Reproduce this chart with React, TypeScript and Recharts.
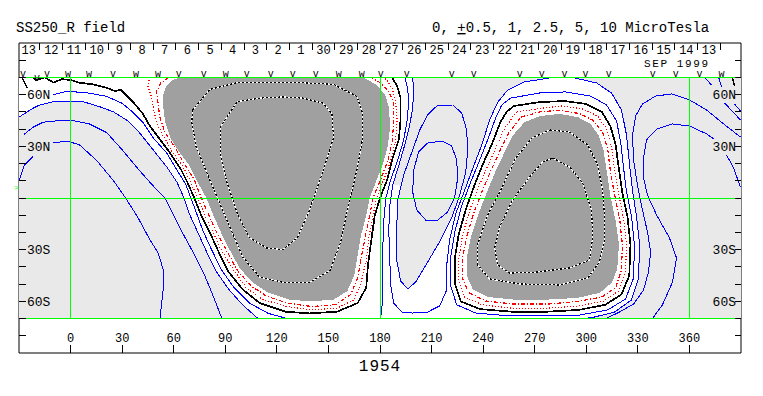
import { ScatterChart, Scatter, XAxis, YAxis } from "recharts";

type P = [number, number];

const W = 763;
const H = 396;
const MONO = "'Liberation Mono', 'DejaVu Sans Mono', monospace";
const BLUE = "#0000ff";
const RED = "#ff0000";
const GREEN = "#00ff00";
const LIGHT = "#e9e9e9";
const DARK = "#a0a0a0";

// axis ticks
const lonTicks = [0, 30, 60, 90, 120, 150, 180, 210, 240, 270, 300, 330, 360];
const latTicks = [-80, -70, -60, -50, -40, -30, -20, -10, 0, 10, 20, 30, 40, 50, 60, 70, 80];
const latLabelVals = [60, 30, -30, -60];
const latLabelText = ["60N", "30N", "30S", "60S"];

// carrington day boundaries along the top strip
const daySeps = [-17.8, -4.6, 8.6, 21.8, 35.0, 48.2, 61.3, 74.5, 87.7, 100.9, 114.1, 127.3, 140.5, 153.7, 166.9, 180.1, 193.3, 206.5, 219.6, 232.8, 246.0, 259.2, 272.4, 285.6, 298.8, 312.0, 325.2, 338.4, 351.6, 364.8, 377.9];
const dayLabels = ["13", "12", "11", "10", "9", "8", "7", "6", "5", "4", "3", "2", "1", "30", "29", "28", "27", "26", "25", "24", "23", "22", "21", "20", "19", "18", "17", "16", "15", "14", "13"];

// observation marks on top of the map
const markLon = [-27.7, -19.5, -13.7, -1.5, 10.7, 24.7, 38, 50.8, 63, 77.5, 90.3, 102.5, 116.5, 129.3, 142.6, 156, 169.4, 180.4, 195.6, 221.7, 234.5, 261.3, 274.1, 287.4, 299.6, 313, 338.6, 352, 365.9, 378.7];
const markLat = [70, 68, 70, 70, 70, 70, 70, 70, 70, 70, 70, 70, 70, 70, 70, 70, 70, 70, 70, 70, 70, 70, 70, 70, 70, 70, 70, 70, 70, 70];
const markKind = ["v", "v", "v", "w", "w", "v", "w", "w", "v", "v", "w", "v", "v", "v", "v", "w", "w", "v", "v", "v", "v", "v", "v", "v", "v", "v", "v", "v", "v", "w"];

// map extent + grid
const mapBox: P[] = [[-30, 70], [390, 70], [390, -70], [-30, -70]];
const gridLat = [70, 0, -70];
const gridLon = [0, 180, 360];

// ---- contours (lon, lat) ----
// left negative lobe
const a4Stub: P[] = [[-30, 10], [-27, 19], [-22, 24]];
const a4: P[] = [[-10, 32], [-2, 33], [5, 31], [15, 22], [25, 10], [32, 0], [39, -11], [46, -24], [51, -32], [54, -42], [54, -52], [53, -61], [52, -70]];
const a3: P[] = [[-27, 37], [-22, 41], [-16, 44], [-6, 45], [1, 45], [11, 43], [21, 38], [30, 28], [40, 16], [49, 6], [55, 0], [59, -8], [65, -20], [71, -31], [78, -45], [83, -57], [88, -70]];
const a2: P[] = [[-30, 47], [-22, 52], [-18, 54], [-10, 56], [-2, 56], [7, 56], [17, 53], [25, 50], [33, 45], [40, 38], [48, 28], [56, 18], [62, 9], [66, 0], [69, -9], [74, -20], [79, -31], [85, -43], [92, -53], [100, -62], [109, -70]];
const a1: P[] = [[-10, 60], [-2, 62], [10, 61], [21, 59], [30, 55], [36, 50], [42, 44], [48, 35], [56, 26], [62, 16], [67, 8], [70, 0], [73, -8], [77, -19], [82, -30], [88, -42], [95, -52], [104, -61], [115, -67], [126, -70]];

// left positive blob
const nlA: P[] = [[-22, 70], [-20, 68.5], [-15, 70], [-10, 67], [-5, 69], [0, 68.5], [5, 67], [13, 66], [21, 64], [26, 62], [29, 63], [33, 59], [37, 55], [42, 49], [46, 42], [52, 34], [58, 26], [64, 17], [68, 9], [72, 0], [76, -10], [81, -20], [86, -31], [92, -43], [100, -53], [110, -61], [125, -66], [139, -67], [155, -66], [167, -61], [172, -52], [173, -39], [175, -24], [177, -10], [180, 0], [184, 10], [187, 22], [191, 34], [192, 46], [192, 58], [190, 65], [187, 70]];
const r2L: P[] = [[46, 70], [45, 65], [47, 59], [48.5, 51], [50, 44], [54, 36], [59, 27], [65, 19], [70, 9], [74, 0], [78, -10], [83, -20], [88, -31], [95, -42], [102, -52], [112, -59], [126, -63], [140, -65], [155, -64], [165, -59], [169, -49], [172, -36], [173.5, -23], [176, -10], [178, 0], [182, 10], [186, 21], [189, 33], [190, 45], [189, 56], [187, 64], [184, 68.5], [182, 70]];
const r1L: P[] = [[57, 70], [52.5, 67], [50, 62], [51, 54], [52, 46.5], [55, 38], [61, 29], [66, 20], [72, 10.5], [76, 0], [80.5, -10], [85, -20], [91, -31], [97, -42], [105, -51], [114, -57], [126, -61], [140, -63], [154, -62], [163, -56], [167, -46.5], [169, -35], [171.5, -22], [174, -10], [176, 0], [180, 10], [184, 20], [187, 32], [188, 44], [188, 55], [185, 62], [180, 67], [175, 70]];
const g1: P[] = [[64, 70], [59, 68.5], [55.5, 65], [54, 60], [54, 52], [55, 44], [58, 35], [63, 27], [69, 19], [74, 9], [79, 0], [83, -10], [87.5, -20], [93, -31], [98.5, -41], [106, -49], [115, -55], [127, -59], [140, -60], [153, -59], [161, -54], [165, -45], [167, -33], [169, -21.5], [172, -10], [174, 0], [177.5, 9], [181.5, 19], [184.5, 30], [186, 42], [185, 53], [183, 60], [177.5, 66], [171, 69.7], [167, 70]];
const w1: P[] = [[71, 51], [81, 63], [97, 67], [114, 67], [133, 67], [153, 66], [166.5, 59], [170, 49], [170, 35], [166.5, 16], [161, -7], [157, -26], [151, -42], [139, -49], [124, -49], [110, -46], [100, -34], [91, -13], [81, 10.5], [73, 30], [70.5, 44]];
const w2: P[] = [[87, 41], [97, 56], [110, 58], [123.5, 58.7], [135, 58], [147, 55], [152, 49], [153, 35], [147, 16], [139, -7], [132, -23], [123.5, -30], [114, -29], [104, -23], [97, -9], [91, 9], [87, 26]];

// middle region
const m1: P[] = [[194.4, 70], [196, 64], [196.7, 57], [196, 46.5], [193.8, 33.7], [190.3, 22], [186.2, 10.5], [183.4, 0], [182.2, -12.8], [181.6, -30], [181.6, -47.6], [181.6, -59], [180.4, -70]];
const mb: P[] = [[199, 70], [199.6, 61.6], [199, 52.3], [197.3, 42.4], [194.4, 30.8], [191, 19.2], [187.4, 7.5], [185.7, -4.1], [185.1, -18.6], [185.7, -36], [186.2, -50.5], [188, -61], [192.6, -66.2], [199, -66.8], [207.7, -66.2], [214.7, -62.7], [218.8, -53.4], [218.8, -39], [220.5, -24.4], [224, -9.3], [229.3, 4.6], [234.5, 18.6], [239.2, 30.8], [243.8, 45.3], [248.5, 55.7], [254.3, 62.7], [264, 67.4], [278.7, 69.7], [293.2, 69.7], [306, 66.8], [314.7, 61], [320.5, 51], [323.4, 36.6], [325.2, 19.2], [327, 3.5], [329.2, -10.5], [331, -27], [330.4, -46.5], [326.3, -59.2], [316.5, -66.2], [304.8, -69.1], [299, -70]];
const e2: P[] = [[213, 53.4], [222.3, 54], [227.5, 49.4], [230.4, 39.5], [231, 27.9], [229.9, 15.1], [226.4, 1.7], [221.7, -11.6], [215.3, -24.4], [207.7, -37.2], [200.8, -48.8], [196.1, -52.8], [192, -48.2], [189.7, -36], [189.7, -18.6], [190.3, -1.2], [193.8, 13.4], [199, 27.9], [203.1, 39.5], [207.7, 48.2]];
const e1: P[] = [[207.7, 31.9], [216, 33.1], [221.7, 30.2], [224.6, 22.1], [225.2, 11.6], [223.5, 0.6], [219.4, -8.1], [213.6, -12.8], [206.6, -12.8], [201.4, -7], [199, 3.5], [199.6, 16.3], [202.5, 26.7]];

// right positive blob
const g2: P[] = [[264, 44], [273, 47.6], [284.5, 48.8], [295, 47], [302.5, 43], [307, 36.6], [310, 28], [312, 15], [314, 1.2], [317, -13], [319, -27], [318, -41], [315, -49], [308, -55], [295, -58], [277.5, -59], [258, -59], [242.6, -57.5], [234, -53], [230.4, -45], [230.4, -35], [232.8, -23], [237, -10], [242, 3], [247, 15], [252, 25.6], [257, 36]];
const r1R: P[] = [[262, 47], [273, 50], [284.5, 51], [296, 49], [304, 45], [309.5, 38], [312.4, 29], [314, 15.7], [316.5, 1.7], [319.4, -12], [321, -27], [320.5, -42], [317, -52], [309, -57.5], [295.5, -60], [277.5, -61.6], [257.7, -61.6], [241.5, -59.8], [231.6, -55], [228, -46.5], [228, -35], [230.4, -22.6], [234.5, -8.7], [239.7, 4.6], [245, 17], [249.6, 27], [255, 38]];
const r2R: P[] = [[259.5, 50], [273, 52], [285.7, 53.4], [298, 51.7], [306.6, 47.6], [311.8, 40], [314.7, 30], [316.5, 16], [318.8, 2.3], [321.7, -11.6], [323.4, -27], [322.8, -43], [318.8, -54], [310, -59.8], [295.5, -62.7], [277.5, -64], [257, -64], [239.7, -62], [229.3, -57.5], [225.8, -47.6], [225.8, -35], [228, -22], [232, -7.5], [237.4, 6.4], [242.6, 18.6], [247.3, 29], [252.5, 40.6]];
const nlB: P[] = [[257.7, 53.4], [273, 55.7], [287.4, 56.3], [300, 54.6], [309, 50], [314, 41.8], [317, 31.4], [319, 16.8], [321, 2.9], [324, -11], [325.7, -27], [325, -45], [320.5, -56], [311, -62], [295.5, -65], [277.5, -66], [256.6, -66], [238, -64.5], [227, -60], [223.5, -49.4], [223.5, -35], [225.8, -21], [230, -6.4], [235, 7.5], [240, 20], [245, 31], [250, 44], [253.7, 50]];
const b1: P[] = [[256, 58], [273, 61], [288, 61.6], [302.5, 59.2], [311.8, 54], [317.6, 44.7], [320, 32.5], [321.7, 17.4], [323.4, 3.5], [326.3, -10.5], [328, -27], [327.5, -46.5], [322.8, -58.7], [312.4, -65], [296, -68], [277.5, -68.5], [256, -68.5], [235.7, -66.8], [224.6, -62], [221, -50.5], [221, -35], [223.5, -19.7], [227.5, -4.6], [232.8, 9.3], [238, 22], [242.6, 33.7], [247.3, 46.5], [250.8, 54]];
const w3: P[] = [[278.7, 39.5], [290.3, 38.3], [300.8, 30.8], [306.6, 19.2], [309.5, 4.6], [310.6, -9.9], [310.6, -24.4], [307.7, -37.2], [300.8, -46.5], [284.5, -50.5], [261.2, -49.9], [243.8, -47], [236.8, -38.9], [236.8, -27.3], [242.1, -11], [250.8, 5.8], [259, 23.2], [268.3, 34.8]];
const w4: P[] = [[280.4, 23.2], [290.3, 18], [297.9, 8.7], [303.1, -7], [303.7, -22.6], [301.9, -36], [290.3, -40.6], [271.2, -43], [255.4, -43.6], [248.5, -38.9], [246.7, -29], [249.6, -16.8], [257.2, -1.2], [267, 12.2], [274.6, 20.9]];

// right negative lobe
const c1: P[] = [[389.7, 35.4], [379.9, 43], [370, 51.1], [360.1, 56.9], [349.6, 60.4], [340.3, 59.2], [332.7, 54.6], [328.7, 47.6], [326.9, 36.6], [327.5, 22.1], [329.8, 7.5], [332.7, -7], [335.6, -19.7], [337.4, -31.4], [336.2, -43], [333.3, -53.4], [327.5, -61.6], [318.2, -66.8], [311.2, -70]];
const c2: P[] = [[338.5, -70], [344.3, -62], [350.2, -48.8], [352.5, -34.8], [348.4, -23.2], [340.9, -9.9], [335.6, 1.7], [333.3, 11.6], [333.3, 23.2], [335, 33.7], [340.9, 40], [350.2, 43], [360.1, 41.8], [370, 37.2], [374.1, 34.3]];
const c2Stub: P[] = [[381.6, 25], [385.7, 17.4], [389.7, 6.4]];
const stubB1: P[] = [[368.8, 70], [372.9, 65.6]];
const stubB2: P[] = [[377, 70], [378.8, 64.5]];
const stubB3: P[] = [[380.4, 55.2], [389.7, 45.3]];
const stubB4: P[] = [[386.2, 54.6], [389.7, 50.5]];
const stubK1: P[] = [[385.1, 69.7], [386.2, 65]];
const stubK2: P[] = [[-28.3, 70], [-25.3, 63.9]];

const pts = (a: P[]) => a.map(([x, y]) => ({ x, y }));
const loop = (a: P[]) => [...a, a[0]];
const Empty = () => <g />;

// white zone: north of the left lobe's second contour, across to the outer contour of the right blob,
// cutting straight across under the egg
const whiteZone: P[] = [[-30, 70], ...mb.slice(0, 7), ...mb.slice(20), ...[...a2].reverse()];

function fillShape(key: string, data: P[], color: string) {
  return (
    <Scatter key={key} data={pts(data)} xAxisId="b" yAxisId="l" shape={Empty} isAnimationActive={false}
      line={{ stroke: "none", fill: color, shapeRendering: "crispEdges" }} lineJointType="linear" legendType="none" />
  );
}

function stroke(key: string, data: P[], color: string, width = 1, dash?: string) {
  return (
    <Scatter key={key} data={pts(data)} xAxisId="b" yAxisId="l" shape={Empty} isAnimationActive={false}
      line={{ stroke: color, strokeWidth: width, strokeDasharray: dash, fill: "none", shapeRendering: "crispEdges" }}
      lineJointType="linear" legendType="none" />
  );
}

function BottomTick(p: any) {
  return (
    <g>
      <line x1={p.x} x2={p.x} y1={p.y} y2={p.y - 8} stroke="#000" shapeRendering="crispEdges" />
      <text x={p.x} y={p.y - 11} textAnchor="middle" fontFamily={MONO} fontSize={12} fill="#000">{p.payload.value}</text>
    </g>
  );
}

function TopTick(p: any) {
  return (
    <g>
      <line x1={p.x} x2={p.x} y1={p.y} y2={p.y + 7} stroke="#000" shapeRendering="crispEdges" />
      <text x={p.x - 11.3} y={p.y + 11} textAnchor="middle" fontFamily={MONO} fontSize={12} fill="#000">{dayLabels[p.index]}</text>
    </g>
  );
}

function LeftTick(p: any) {
  const i = latLabelVals.indexOf(p.payload.value);
  return (
    <g>
      <line x1={p.x} x2={p.x + 7} y1={p.y} y2={p.y} stroke="#000" shapeRendering="crispEdges" />
      {i >= 0 && <text x={p.x + 8} y={p.y + 4.5} fontFamily={MONO} fontSize={13} fill="#000">{latLabelText[i]}</text>}
    </g>
  );
}

function RightTick(p: any) {
  const i = latLabelVals.indexOf(p.payload.value);
  return (
    <g>
      <line x1={p.x} x2={p.x - 6} y1={p.y} y2={p.y} stroke="#000" shapeRendering="crispEdges" />
      {i >= 0 && <text x={p.x - 5} y={p.y + 4.5} textAnchor="end" fontFamily={MONO} fontSize={13} fill="#000">{latLabelText[i]}</text>}
    </g>
  );
}

function Mark(p: any) {
  return (
    <text x={p.cx} y={p.cy} textAnchor="middle" fontFamily={MONO} fontSize={10} fill="#000">{p.payload.k}</text>
  );
}

const marks = markLon.map((x, i) => ({ x, y: markLat[i], k: markKind[i] }));

export default function App() {
  return (
    <div style={{ position: "absolute", left: 0, top: 0, width: W, height: H, background: "#fff" }}>
      <ScatterChart width={W} height={H} margin={{ top: 13, right: 0, bottom: 0, left: 0 }}>
        {fillShape("bg", mapBox, LIGHT)}
        {fillShape("white", whiteZone, "#ffffff")}
        {fillShape("egg", e2, LIGHT)}
        {fillShape("g1", g1, DARK)}
        {fillShape("g2", g2, DARK)}

        {stroke("a4s", a4Stub, BLUE)}
        {stroke("a4", a4, BLUE)}
        {stroke("a3", a3, BLUE)}
        {stroke("a2", a2, BLUE)}
        {stroke("a1", a1, BLUE)}
        {stroke("m1", m1, BLUE)}
        {stroke("mb", mb, BLUE)}
        {stroke("e2", loop(e2), BLUE)}
        {stroke("e1", loop(e1), BLUE)}
        {stroke("b1", loop(b1), BLUE)}
        {stroke("c1", c1, BLUE)}
        {stroke("c2", c2, BLUE)}
        {stroke("c2s", c2Stub, BLUE)}
        {stroke("sb1", stubB1, BLUE)}
        {stroke("sb2", stubB2, BLUE)}
        {stroke("sb3", stubB3, BLUE)}
        {stroke("sb4", stubB4, BLUE)}

        {stroke("r2L", r2L, RED, 1.2, "1 2")}
        {stroke("r1L", r1L, RED, 1.2, "4 2 1 2")}
        {stroke("r2R", loop(r2R), RED, 1.2, "1 2")}
        {stroke("r1R", loop(r1R), RED, 1.2, "4 2 1 2")}

        {stroke("nlA", nlA, "#000", 1.7)}
        {stroke("nlB", loop(nlB), "#000", 1.7)}
        {stroke("sk1", stubK1, "#000", 1.5)}
        {stroke("sk2", stubK2, "#000", 1.5)}

        {stroke("w1b", loop(w1), "#fff", 1.2)}
        {stroke("w1", loop(w1), "#000", 1.2, "2 2")}
        {stroke("w2b", loop(w2), "#fff", 1.2)}
        {stroke("w2", loop(w2), "#000", 1.2, "2 2")}
        {stroke("w3b", loop(w3), "#fff", 1.2)}
        {stroke("w3", loop(w3), "#000", 1.2, "2 2")}
        {stroke("w4b", loop(w4), "#fff", 1.2)}
        {stroke("w4", loop(w4), "#000", 1.2, "2 2")}

        {gridLat.map((la) => stroke(`gla${la}`, [[-30, la], [390, la]], GREEN, 1))}
        {gridLon.map((lo) => stroke(`glo${lo}`, [[lo, -70], [lo, 70]], GREEN, 1))}

        <Scatter data={marks} xAxisId="b" yAxisId="l" shape={Mark} isAnimationActive={false} legendType="none" />

        <XAxis xAxisId="b" dataKey="x" type="number" domain={[-30, 390]} allowDataOverflow ticks={lonTicks} interval={0}
          height={43} tickSize={0} tickMargin={0} tickLine={false} axisLine={{ stroke: "#000" }} tick={BottomTick} />
        <XAxis xAxisId="t" dataKey="x" type="number" orientation="top" domain={[-30, 390]} allowDataOverflow ticks={daySeps} interval={0}
          height={30} tickSize={0} tickMargin={0} tickLine={false} axisLine={{ stroke: "#000" }} tick={TopTick} />
        <YAxis yAxisId="l" dataKey="y" type="number" domain={[-90, 90]} allowDataOverflow ticks={latTicks} interval={0}
          width={19} tickSize={0} tickMargin={0} tickLine={false} axisLine={{ stroke: "#000" }} tick={LeftTick} />
        <YAxis yAxisId="r" dataKey="y" type="number" orientation="right" domain={[-90, 90]} allowDataOverflow ticks={latTicks} interval={0}
          width={22} tickSize={0} tickMargin={0} tickLine={false} axisLine={{ stroke: "#000" }} tick={RightTick} />
      </ScatterChart>
      <svg width={W} height={H} style={{ position: "absolute", left: 0, top: 0, pointerEvents: "none" }}>
        <text x={16} y={32} fontFamily={MONO} fontSize={14} fill="#000">SS250_R field</text>
        <text x={432} y={32} fontFamily={MONO} fontSize={14} fill="#000" xmlSpace="preserve">
          0, <tspan textDecoration="underline">+</tspan>0.5, 1, 2.5, 5, 10 MicroTesla
        </text>
        <text x={644} y={66.5} fontFamily={MONO} fontSize={11} letterSpacing={1.6} fill="#000">SEP 1999</text>
        <text x={380} y={371} textAnchor="middle" fontFamily={MONO} fontSize={16} letterSpacing={1} fill="#000">1954</text>
        <text x={14} y={190} fontFamily={MONO} fontSize={8} fill={GREEN}>&gt;</text>
      </svg>
    </div>
  );
}
